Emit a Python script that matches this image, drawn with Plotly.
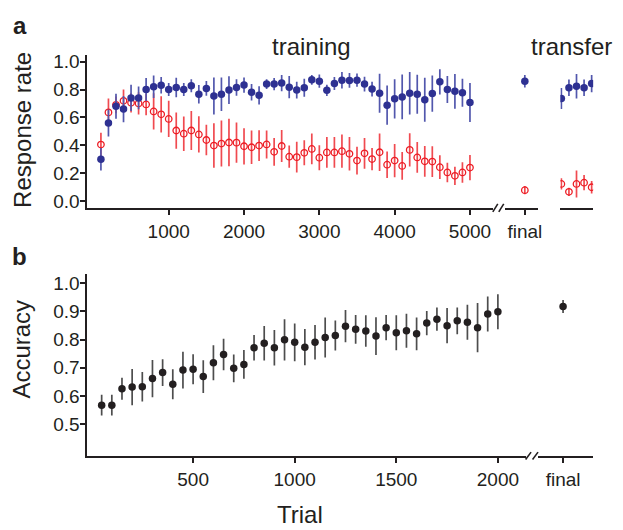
import plotly.graph_objects as go

# ---------------- data ----------------
trials_a = list(range(100, 5001, 100))
blue_a = [0.30, 0.56, 0.68, 0.66, 0.74, 0.74, 0.80, 0.82, 0.83, 0.80,
          0.815, 0.80, 0.827, 0.766, 0.808, 0.754, 0.766, 0.796, 0.815, 0.832,
          0.78, 0.758, 0.839, 0.839, 0.846, 0.817, 0.796, 0.813, 0.87, 0.86,
          0.794, 0.843, 0.867, 0.865, 0.867, 0.839, 0.803, 0.773, 0.688, 0.733,
          0.747, 0.773, 0.766, 0.726, 0.771, 0.855, 0.80, 0.787, 0.777, 0.707]
blue_a_err = [0.08, 0.097, 0.09, 0.094, 0.094, 0.082, 0.082, 0.08, 0.059, 0.047,
              0.07, 0.047, 0.047, 0.067, 0.053, 0.133, 0.12, 0.10, 0.059, 0.055,
              0.059, 0.065, 0.035, 0.044, 0.059, 0.08, 0.06, 0.065, 0.035, 0.047,
              0.041, 0.047, 0.059, 0.053, 0.047, 0.053, 0.053, 0.14, 0.14, 0.14,
              0.16, 0.153, 0.14, 0.158, 0.13, 0.09, 0.097, 0.125, 0.10, 0.14]
red_a = [0.405, 0.636, 0.69, 0.719, 0.705, 0.70, 0.693, 0.643, 0.622, 0.589,
         0.506, 0.483, 0.506, 0.478, 0.438, 0.398, 0.412, 0.42, 0.419, 0.393,
         0.386, 0.398, 0.406, 0.353, 0.395, 0.318, 0.315, 0.346, 0.374, 0.311,
         0.349, 0.349, 0.358, 0.339, 0.29, 0.342, 0.301, 0.35, 0.261, 0.29,
         0.252, 0.367, 0.313, 0.285, 0.283, 0.243, 0.205, 0.181, 0.205, 0.24]
red_a_err = [0.085, 0.10, 0.06, 0.082, 0.07, 0.08, 0.077, 0.13, 0.13, 0.13,
             0.13, 0.124, 0.14, 0.13, 0.11, 0.16, 0.165, 0.17, 0.145, 0.13,
             0.12, 0.11, 0.10, 0.10, 0.115, 0.08, 0.11, 0.09, 0.11, 0.09,
             0.11, 0.11, 0.12, 0.12, 0.10, 0.11, 0.08, 0.135, 0.095, 0.12,
             0.10, 0.12, 0.11, 0.11, 0.11, 0.085, 0.07, 0.065, 0.073, 0.09]

final_label = ["final"]
final_blue = [0.86]
final_blue_err = [0.045]
final_red = [0.078]
final_red_err = [0.03]

transfer_trials = [100, 200, 300, 400, 500]
transfer_blue = [0.735, 0.813, 0.824, 0.813, 0.843]
transfer_blue_err = [0.075, 0.059, 0.088, 0.059, 0.062]
transfer_red = [0.123, 0.066, 0.123, 0.132, 0.099]
transfer_red_err = [0.041, 0.03, 0.097, 0.054, 0.044]

trials_b = list(range(50, 2001, 50))
acc_b = [0.568, 0.568, 0.626, 0.632, 0.633, 0.662, 0.683, 0.642, 0.692, 0.695,
         0.669, 0.718, 0.747, 0.698, 0.712, 0.771, 0.787, 0.771, 0.799, 0.79,
         0.773, 0.79, 0.807, 0.814, 0.847, 0.836, 0.83, 0.812, 0.842, 0.824,
         0.831, 0.82, 0.858, 0.872, 0.849, 0.866, 0.861, 0.842, 0.89, 0.898]
acc_b_err = [0.037, 0.037, 0.039, 0.064, 0.052, 0.066, 0.047, 0.053, 0.065, 0.053,
             0.058, 0.062, 0.056, 0.049, 0.051, 0.045, 0.061, 0.063, 0.073, 0.067,
             0.064, 0.061, 0.071, 0.053, 0.057, 0.051, 0.056, 0.067, 0.045, 0.062,
             0.06, 0.058, 0.043, 0.041, 0.062, 0.047, 0.062, 0.087, 0.062, 0.062]
final_acc = [0.917]
final_acc_err = [0.023]

ticks_a_x = [1000, 2000, 3000, 4000, 5000]
ticks_a_y = [0.0, 0.2, 0.4, 0.6, 0.8, 1.0]
ticks_b_x = [500, 1000, 1500, 2000]
ticks_b_y = [0.5, 0.6, 0.7, 0.8, 0.9, 1.0]

# ---------------- styling ----------------
W, H = 623, 530
INK = "#231f20"
BLUE = "#2e3192"
BLUE_BAR = "#5257ad"
RED = "#ed1c24"
RED_BAR = "#f04a50"
BLACK_BAR = "#4d4d4d"
FONT = "Liberation Sans, Arial, sans-serif"


def px(x):
    return x / W


def py(y):
    return 1 - y / H


def blue_trace(x, y, err, xa, ya):
    return go.Scatter(x=x, y=y, mode="markers", xaxis=xa, yaxis=ya,
                      marker=dict(color=BLUE, size=7.5, line=dict(width=0)),
                      error_y=dict(type="data", array=err, color=BLUE_BAR,
                                   thickness=1.7, width=0),
                      showlegend=False, hoverinfo="skip")


def red_trace(x, y, err, xa, ya):
    return go.Scatter(x=x, y=y, mode="markers", xaxis=xa, yaxis=ya,
                      marker=dict(symbol="circle-open", color=RED, size=6.5,
                                  line=dict(width=1.3, color=RED)),
                      error_y=dict(type="data", array=err, color=RED_BAR,
                                   thickness=1.7, width=0),
                      showlegend=False, hoverinfo="skip")


def black_trace(x, y, err, xa, ya):
    return go.Scatter(x=x, y=y, mode="markers", xaxis=xa, yaxis=ya,
                      marker=dict(color=INK, size=7.5, line=dict(width=0)),
                      error_y=dict(type="data", array=err, color=BLACK_BAR,
                                   thickness=1.7, width=0),
                      showlegend=False, hoverinfo="skip")


fig = go.Figure()
fig.add_trace(red_trace(trials_a, red_a, red_a_err, "x", "y"))
fig.add_trace(blue_trace(trials_a, blue_a, blue_a_err, "x", "y"))
fig.add_trace(red_trace(final_label, final_red, final_red_err, "x2", "y"))
fig.add_trace(blue_trace(final_label, final_blue, final_blue_err, "x2", "y"))
fig.add_trace(red_trace(transfer_trials, transfer_red, transfer_red_err, "x3", "y"))
fig.add_trace(blue_trace(transfer_trials, transfer_blue, transfer_blue_err, "x3", "y"))
fig.add_trace(black_trace(trials_b, acc_b, acc_b_err, "x4", "y2"))
fig.add_trace(black_trace(final_label, final_acc, final_acc_err, "x5", "y2"))

tickfont = dict(family=FONT, size=19, color=INK)
common = dict(showline=True, linewidth=2, linecolor=INK, showgrid=False,
              zeroline=False, ticks="outside", ticklen=5, tickwidth=2,
              tickcolor=INK, tickfont=tickfont, fixedrange=True)
ycommon = dict(common, ticklabelstandoff=-3)

sa = 0.0758   # px per trial, panel a
sb = 0.2045   # px per trial, panel b

fig.update_layout(
    width=W, height=H,
    margin=dict(l=0, r=0, t=0, b=0),
    paper_bgcolor="white", plot_bgcolor="white",
    showlegend=False,
    xaxis=dict(domain=[px(88), px(496)], range=[(88 - 94) / sa, (496 - 94) / sa],
               anchor="y", tickvals=ticks_a_x, **common),
    xaxis2=dict(domain=[px(508), px(541.7)], type="category", range=[-0.6, 0.4],
                anchor="y", **common),
    xaxis3=dict(domain=[px(564), px(597)], range=[87, 520], anchor="y",
                showline=True, linewidth=2, linecolor=INK, showgrid=False,
                zeroline=False, ticks="", showticklabels=False, fixedrange=True),
    yaxis=dict(domain=[py(207), py(52)], range=[-0.049, 1.046], anchor="x",
               tickvals=ticks_a_y, tickformat=".1f", **ycommon),
    xaxis4=dict(domain=[px(88), px(529)], range=[(88 - 92.1) / sb, (529 - 92.1) / sb],
                anchor="y2", tickvals=ticks_b_x, **common),
    xaxis5=dict(domain=[px(541.7), px(596.7)], type="category",
                range=[-0.4545, 0.5455], anchor="y2", **common),
    yaxis2=dict(domain=[py(458.7), py(274.3)], range=[0.389, 1.031], anchor="x4",
                tickvals=ticks_b_y, tickformat=".1f", **ycommon),
)

lab = dict(family=FONT, size=24, color=INK)
annots = [
    dict(text="<b>a</b>", x=px(20), y=py(22), font=lab),
    dict(text="training", x=px(314), y=py(43), font=lab),
    dict(text="transfer", x=px(575), y=py(43), font=lab),
    dict(text="Response rate", x=px(22), y=py(128), font=lab, textangle=-90),
    dict(text="<b>b</b>", x=px(20), y=py(256), font=lab),
    dict(text="Accuracy", x=px(22), y=py(350), font=lab, textangle=-90),
    dict(text="Trial", x=px(302), y=py(518), font=lab),
]
for a in annots:
    fig.add_annotation(xref="paper", yref="paper", showarrow=False,
                       xanchor="center", yanchor="middle", **a)

# axis break marks
breaks = [((496, 211), (501, 203)), ((502, 211), (507, 203)),
          ((529, 462.5), (534.5, 455)), ((536, 462.5), (541.5, 455))]
for (x0, y0), (x1, y1) in breaks:
    fig.add_shape(type="line", xref="paper", yref="paper",
                  x0=px(x0), y0=py(y0), x1=px(x1), y1=py(y1),
                  line=dict(color=INK, width=1.6))

fig.write_html("out.html", config={"displayModeBar": False},
               post_script="document.body.style.margin='0';"
                           "document.body.style.overflow='hidden';")
